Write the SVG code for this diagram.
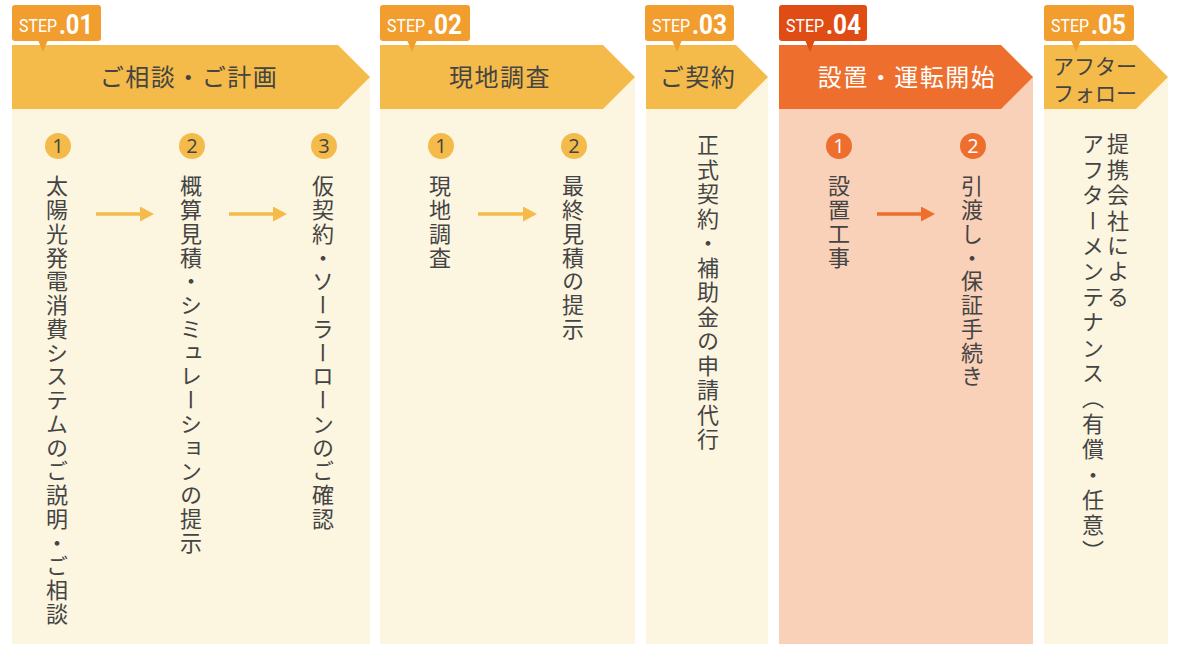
<svg xmlns="http://www.w3.org/2000/svg" width="1180" height="650" viewBox="0 0 1180 650">
<defs>
<style>
.body{fill:#fcf5e0}
.body4{fill:#f9d0b8}
.hdr{fill:#f5bb4a}
.hdr4{fill:#ee6e2d}
.tab{fill:#f29e2e}
.tab4{fill:#e04d14}
.ht{font-family:"Noto Sans CJK JP","Noto Sans",sans-serif;font-size:24px;fill:#444;text-anchor:middle;letter-spacing:1.5px}
.ht5{font-family:"Noto Sans CJK JP","Noto Sans",sans-serif;font-size:21px;fill:#444}
.st{font-family:"Roboto","Liberation Sans",sans-serif;fill:#fff}
.s1{font-size:19px}
.s2{font-size:27px;font-weight:bold}
.c{fill:#f5bb4a}
.c4{fill:#ee6e2d}
.n{font-family:"Open Sans","Liberation Sans",sans-serif;font-size:20px;fill:#444;text-anchor:middle}
.n4{fill:#fff}
.v{font-family:"Noto Sans CJK JP","Noto Sans",sans-serif;font-size:22px;fill:#444;writing-mode:vertical-rl;letter-spacing:1.75px}
.v2{letter-spacing:2.5px}
.v3{letter-spacing:3.4px}
.ar{stroke:#f5bb4a;stroke-width:3.5;fill:none}
.ar4{stroke:#ee6e2d;stroke-width:3.5;fill:none}
</style>
<marker id="mh" markerUnits="userSpaceOnUse" markerWidth="15" markerHeight="16" refX="1" refY="7.5" orient="auto" viewBox="0 0 15 16">
<path d="M0,0 L14,7.5 L0,15 Z" fill="#f5bb4a"/>
</marker>
<marker id="mh4" markerUnits="userSpaceOnUse" markerWidth="15" markerHeight="16" refX="1" refY="7.5" orient="auto" viewBox="0 0 15 16">
<path d="M0,0 L14,7.5 L0,15 Z" fill="#ee6e2d"/>
</marker>
</defs>
<rect width="1180" height="650" fill="#fff"/>

<g id="step1">
<rect class="body" x="12" y="77" width="358" height="567"/>
<path class="hdr" d="M12,45 H338 L370,77 L338,109 H12 Z"/>
<rect class="tab" x="12" y="5" width="89" height="36" rx="3"/>
<path class="tab" d="M38,40 L48,40 L43,52 Z"/>
<text class="st s1" x="19" y="32" textLength="38" lengthAdjust="spacingAndGlyphs">STEP</text>
<text class="st s2" x="59" y="34" textLength="34" lengthAdjust="spacingAndGlyphs">.01</text>
<text class="ht" x="189" y="86">ご相談・ご計画</text>
<circle class="c" cx="58" cy="146" r="13"/><text class="n" x="58" y="153">1</text>
<circle class="c" cx="192" cy="146" r="13"/><text class="n" x="192" y="153">2</text>
<circle class="c" cx="324" cy="146" r="13"/><text class="n" x="324" y="153">3</text>
<text class="v" x="57" y="175">太陽光発電消費システムのご説明・ご相談</text>
<text class="v" x="191" y="175">概算見積・シミュレーションの提示</text>
<text class="v" x="323" y="175">仮契約・ソーラーローンのご確認</text>
</g>

<g id="step2">
<rect class="body" x="380" y="77" width="255" height="567"/>
<path class="hdr" d="M380,45 H603 L635,77 L603,109 H380 Z"/>
<rect class="tab" x="380" y="5" width="90" height="36" rx="3"/>
<path class="tab" d="M407,40 L417,40 L412,52 Z"/>
<text class="st s1" x="387" y="32" textLength="38" lengthAdjust="spacingAndGlyphs">STEP</text>
<text class="st s2" x="427" y="34" textLength="35" lengthAdjust="spacingAndGlyphs">.02</text>
<text class="ht" x="500" y="86">現地調査</text>
<circle class="c" cx="441" cy="146" r="13"/><text class="n" x="441" y="153">1</text>
<circle class="c" cx="574" cy="146" r="13"/><text class="n" x="574" y="153">2</text>
<text class="v" x="440" y="175">現地調査</text>
<text class="v" x="573" y="175">最終見積の提示</text>
</g>

<g id="step3">
<rect class="body" x="646" y="77" width="122" height="567"/>
<path class="hdr" d="M646,45 H736 L768,77 L736,109 H646 Z"/>
<rect class="tab" x="645" y="5" width="89" height="36" rx="3"/>
<path class="tab" d="M672,40 L682,40 L677,52 Z"/>
<text class="st s1" x="652" y="32" textLength="38" lengthAdjust="spacingAndGlyphs">STEP</text>
<text class="st s2" x="692" y="34" textLength="35" lengthAdjust="spacingAndGlyphs">.03</text>
<text class="ht" x="698" y="86">ご契約</text>
<text class="v v2" x="708" y="134">正式契約・補助金の申請代行</text>
</g>

<g id="step4">
<rect class="body4" x="779" y="77" width="254" height="567"/>
<path class="hdr4" d="M779,45 H1001 L1033,77 L1001,109 H779 Z"/>
<rect class="tab4" x="779" y="5" width="88" height="36" rx="3"/>
<path class="tab4" d="M805,40 L815,40 L810,52 Z"/>
<text class="st s1" x="786" y="32" textLength="38" lengthAdjust="spacingAndGlyphs">STEP</text>
<text class="st s2" x="826" y="34" textLength="35" lengthAdjust="spacingAndGlyphs">.04</text>
<text class="ht" x="907" y="86" style="fill:#fff">設置・運転開始</text>
<circle class="c4" cx="839" cy="146" r="13"/><text class="n n4" x="839" y="153">1</text>
<circle class="c4" cx="973" cy="146" r="13"/><text class="n n4" x="973" y="153">2</text>
<text class="v" x="839" y="175">設置工事</text>
<text class="v" x="972" y="175">引渡し・保証手続き</text>
</g>

<g id="step5">
<rect class="body" x="1044" y="77" width="124" height="567"/>
<path class="hdr" d="M1044,45 H1136 L1168,77 L1136,109 H1044 Z"/>
<rect class="tab" x="1044" y="5" width="90" height="36" rx="3"/>
<path class="tab" d="M1071,40 L1081,40 L1076,52 Z"/>
<text class="st s1" x="1051" y="32" textLength="38" lengthAdjust="spacingAndGlyphs">STEP</text>
<text class="st s2" x="1091" y="34" textLength="35" lengthAdjust="spacingAndGlyphs">.05</text>
<text class="ht5" x="1053" y="74">アフター</text>
<text class="ht5" x="1053" y="101">フォロー</text>
<text class="v v3" x="1118" y="133">提携会社による</text>
<text class="v v3" x="1093" y="133">アフターメンテナンス（有償・任意）</text>
</g>

<g id="connectors">
<line class="ar" x1="96" y1="214" x2="141" y2="214" marker-end="url(#mh)"/>
<line class="ar" x1="229" y1="214" x2="274" y2="214" marker-end="url(#mh)"/>
<line class="ar" x1="478" y1="214" x2="524" y2="214" marker-end="url(#mh)"/>
<line class="ar4" x1="877" y1="214" x2="922" y2="214" marker-end="url(#mh4)"/>
</g>
</svg>
